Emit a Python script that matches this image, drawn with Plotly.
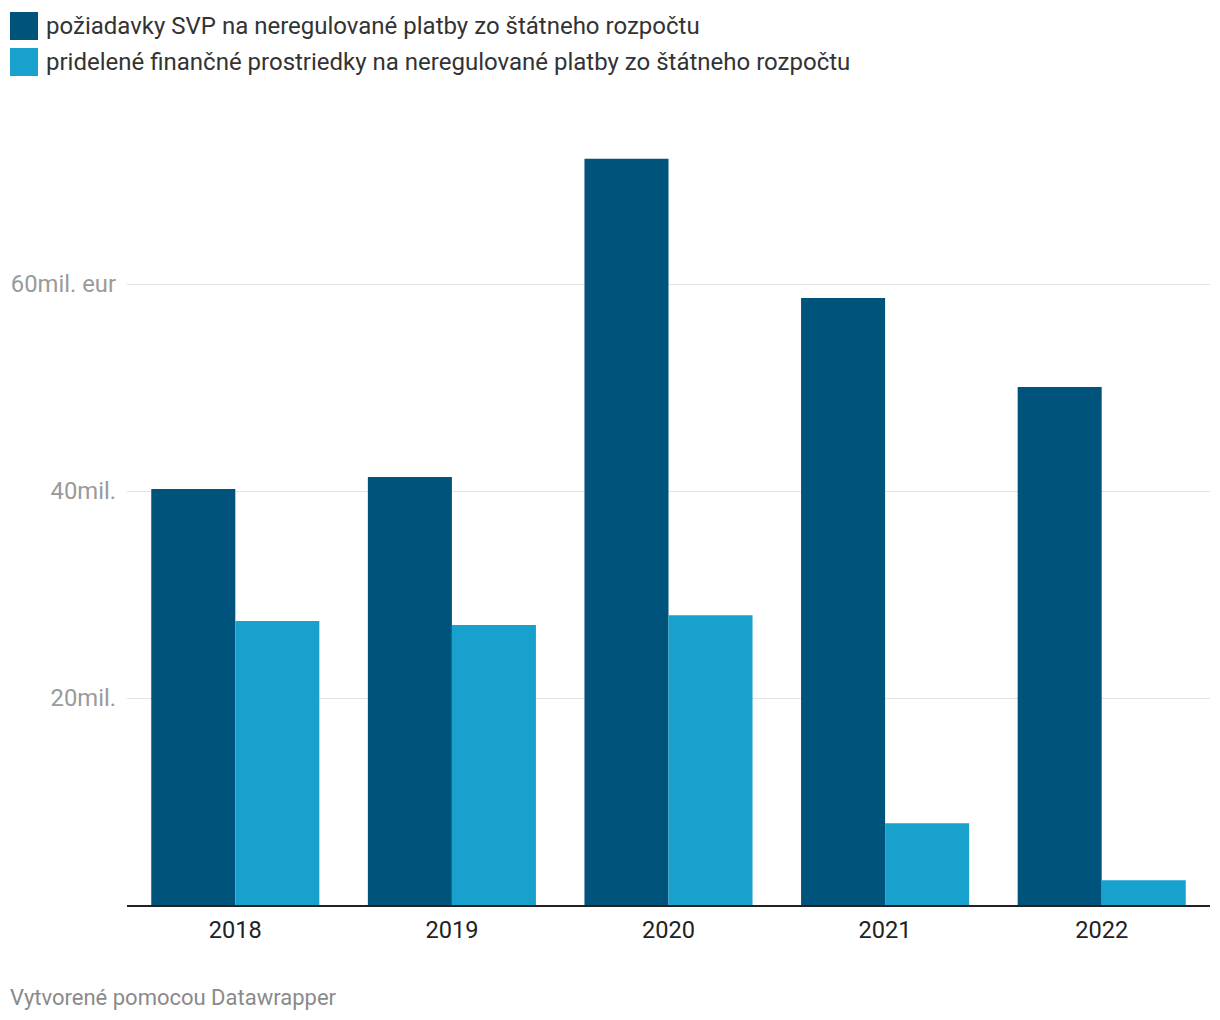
import plotly.graph_objects as go

years = ["2018", "2019", "2020", "2021", "2022"]
requested = [40.2, 41.35, 72.1, 58.65, 50.05]
allocated = [27.45, 27.05, 28.0, 7.9, 2.4]
series_names = [
    "požiadavky SVP na neregulované platby zo štátneho rozpočtu",
    "pridelené finančné prostriedky na neregulované platby zo štátneho rozpočtu",
]
colors = ["#00537a", "#19a1cd"]
tick_vals = [0, 20, 40, 60]
tick_text = ["", "20mil.", "40mil.", "60mil. eur"]
footer = "Vytvorené pomocou Datawrapper"

W, H = 1220, 1020
L, R, T, B = 127, 10, 130, 115
PW, PH = W - L - R, H - T - B
YMAX = PH / 10.35


def px(x):
    return (x - L) / PW


def py(y):
    return (H - B - y) / PH


fig = go.Figure()
for name, vals, col in zip(series_names, [requested, allocated], colors):
    fig.add_trace(go.Bar(x=years, y=vals, name=name, marker=dict(color=col, line=dict(width=0)),
                         showlegend=False, hoverinfo="x+y"))

shapes = []
annotations = []
for i, (name, col) in enumerate(zip(series_names, colors)):
    y0 = 12 + i * 36
    shapes.append(dict(type="rect", xref="paper", yref="paper", x0=px(10), x1=px(38),
                       y0=py(y0 + 28), y1=py(y0), fillcolor=col, line=dict(width=0)))
    annotations.append(dict(xref="paper", yref="paper", x=px(44), y=py(y0 + 14), text=name,
                            showarrow=False, xanchor="left", yanchor="middle",
                            font=dict(size=24, color="#333333", family="Roboto")))
annotations.append(dict(xref="paper", yref="paper", x=px(8), y=py(997), text=footer,
                        showarrow=False, xanchor="left", yanchor="middle",
                        font=dict(size=22, color="#8a8a8a", family="Roboto")))

fig.update_layout(
    width=W, height=H,
    margin=dict(l=L, r=R, t=T, b=B, pad=0),
    paper_bgcolor="white", plot_bgcolor="white",
    barmode="group", bargap=0.224, bargroupgap=0,
    font=dict(family="Roboto", size=20),
    shapes=shapes, annotations=annotations,
    xaxis=dict(showline=True, linecolor="#222222", linewidth=2, ticks="",
               tickfont=dict(size=23.6, color="#222222"), showgrid=False,
               ticklabelstandoff=3),
    yaxis=dict(range=[0, YMAX], tickvals=tick_vals, ticktext=tick_text,
               showgrid=True, gridcolor="#e3e3e3", gridwidth=1, zeroline=False,
               tickfont=dict(size=23.8, color="#9a9a9a"), ticks="",
               ticklabelstandoff=10),
)

fig.write_html("out.html")
